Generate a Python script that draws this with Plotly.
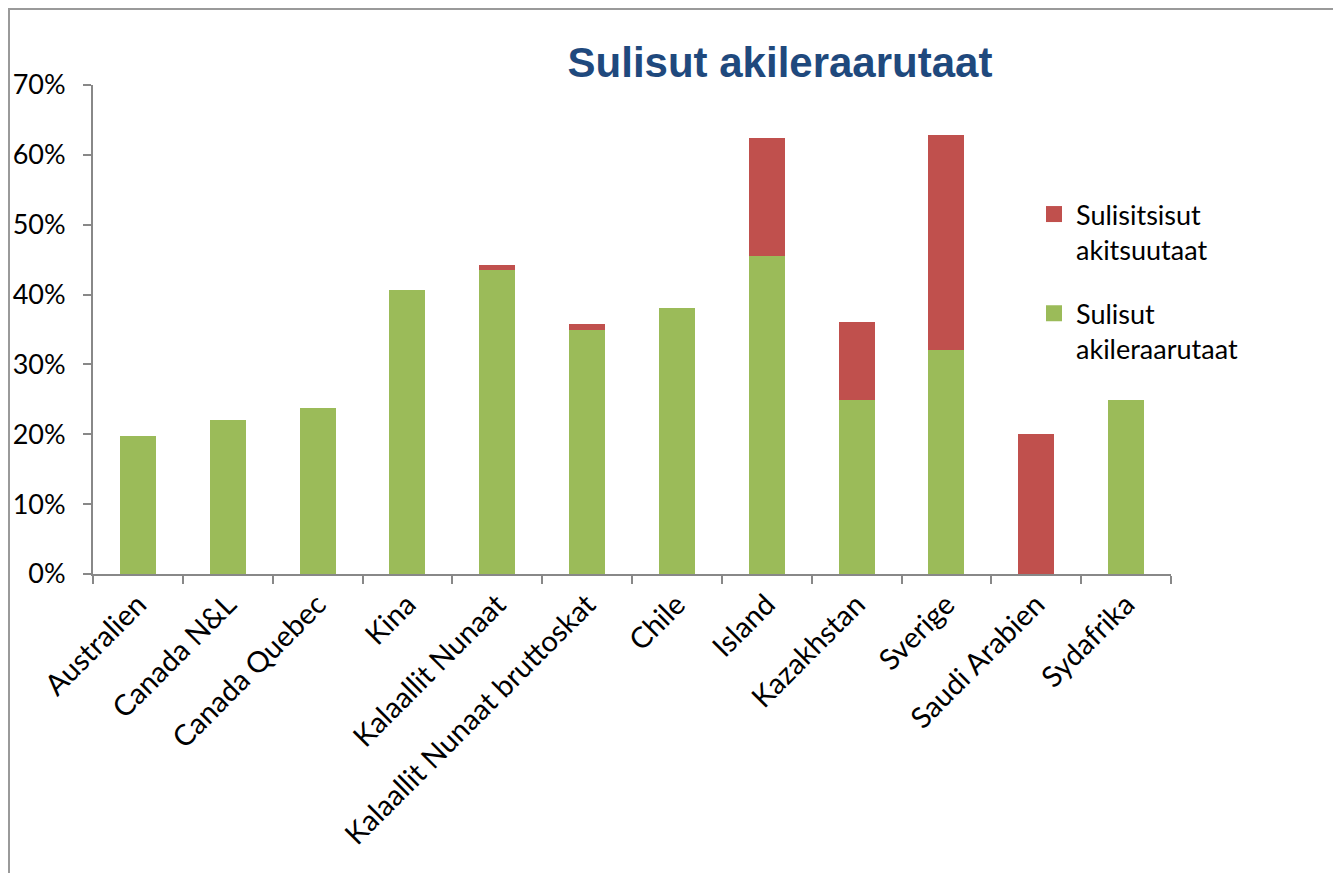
import plotly.graph_objects as go

countries = [
    "Australien", "Canada N&L", "Canada Quebec", "Kina", "Kalaallit Nunaat",
    "Kalaallit Nunaat bruttoskat", "Chile", "Island", "Kazakhstan", "Sverige",
    "Saudi Arabien", "Sydafrika",
]
# Sulisut akileraarutaat (green, bottom)
sulisut = [0.197, 0.220, 0.237, 0.406, 0.435, 0.349, 0.381, 0.455, 0.249, 0.320, 0.0, 0.249]
# Sulisitsisut akitsuutaat (red, top)
sulisitsisut = [0.0, 0.0, 0.0, 0.0, 0.008, 0.009, 0.0, 0.169, 0.112, 0.309, 0.200, 0.0]

y_ticks = [0, 0.1, 0.2, 0.3, 0.4, 0.5, 0.6, 0.7]

GREEN = "#9BBB59"
RED = "#C0504D"
FONT = "Lato, 'Open Sans', sans-serif"

fig = go.Figure()
fig.add_trace(go.Bar(
    x=countries, y=sulisut, showlegend=False,
    marker=dict(color=GREEN, line=dict(width=0)),
))
fig.add_trace(go.Bar(
    x=countries, y=sulisitsisut, showlegend=False,
    marker=dict(color=RED, line=dict(width=0)),
))
# legend entries with bigger square swatches, as in the original
fig.add_trace(go.Scatter(
    x=[None], y=[None], mode="markers", name="Sulisitsisut<br>akitsuutaat",
    legendgroup="r", marker=dict(symbol="square", size=16, color=RED),
))
fig.add_trace(go.Scatter(
    x=[None], y=[None], mode="markers", name="Sulisut<br>akileraarutaat",
    legendgroup="g", marker=dict(symbol="square", size=16, color=GREEN),
))

# page body has an 8px margin, so the figure is drawn 8px in from the window edge
W, H = 1333, 865
L, R, T, B = 85, 170, 77, 299
pw, ph = W - L - R, H - T - B

fig.update_layout(
    width=W, height=H,
    barmode="stack", bargap=0.6,
    margin=dict(l=L, r=R, t=T, b=B, autoexpand=False),
    paper_bgcolor="white", plot_bgcolor="white",
    font=dict(family=FONT, size=27, color="black"),
    title=dict(
        text="<b>Sulisut akileraarutaat</b>",
        font=dict(family="Liberation Sans, Arial, sans-serif", size=42, color="#1F497D"),
        x=(772 - L) / pw, xref="paper", xanchor="center",
        y=1 - 54 / H, yanchor="middle",
    ),
    showlegend=True,
    legend=dict(
        x=(1024 - L) / pw, xanchor="left",
        y=(H - B - 182) / ph, yanchor="top",
        traceorder="grouped", valign="top",
        font=dict(family=FONT, size=27),
        tracegroupgap=26,
        itemwidth=34,
        bgcolor="rgba(0,0,0,0)",
    ),
    xaxis=dict(
        showline=True, linecolor="#888888", linewidth=2,
        ticks="outside", ticklen=8, tickcolor="#888888", tickwidth=2,
        tickson="boundaries", tickangle=-45,
        tickfont=dict(family=FONT, size=29),
        showgrid=False,
    ),
    yaxis=dict(
        range=[0, 0.7], tickvals=y_ticks, tickformat=".0%",
        showline=True, linecolor="#888888", linewidth=2,
        ticks="outside", ticklen=8, tickcolor="#888888", tickwidth=2,
        tickfont=dict(family=FONT, size=27), ticklabelstandoff=12,
        showgrid=False, zeroline=False,
    ),
    shapes=[dict(
        type="rect", xref="paper", yref="paper",
        x0=(1 - L) / pw, x1=(1330 - L) / pw,
        y0=(H - B - 900) / ph, y1=(H - B - 1) / ph,
        line=dict(color="#9A9A9A", width=2), fillcolor="rgba(0,0,0,0)",
        layer="below",
    )],
)

fig.write_html("out.html")
